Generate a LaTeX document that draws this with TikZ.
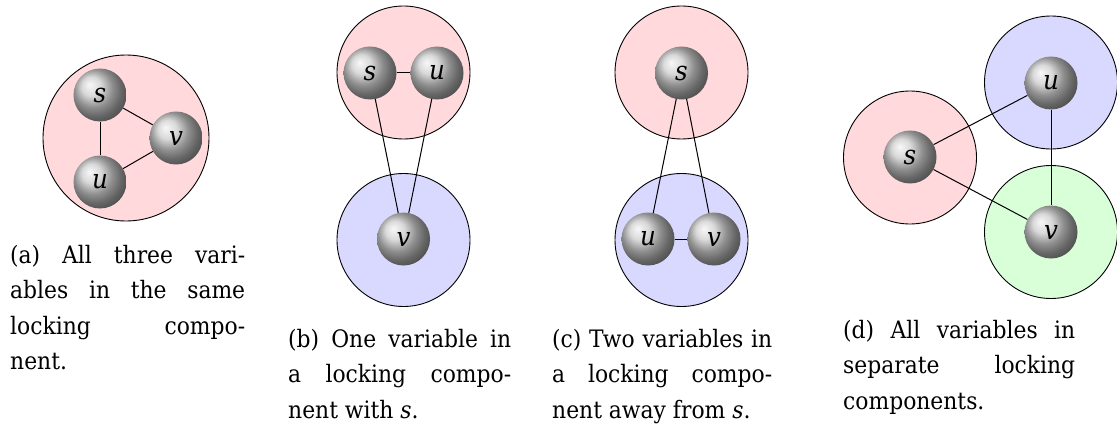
\documentclass[tikz,border=0pt]{standalone}
\usepackage{fontspec}
\setmainfont{DejaVu Serif}[FakeStretch=0.91]
\definecolor{pinkc}{RGB}{255,217,219}
\definecolor{bluec}{RGB}{217,217,255}
\definecolor{greenc}{RGB}{217,255,217}
\pgfdeclarelayer{complayer}
\pgfdeclarelayer{edgelayer}
\pgfsetlayers{complayer,edgelayer,main}
\tolerance=10000\relax
\hyphenpenalty=10000\relax
\tikzset{
  var/.style={circle, minimum size=53pt, inner sep=0pt, ball color=gray!40,
    font=\itshape\fontsize{27}{30}\selectfont},
  compcircle/.style={circle, draw=black, line width=0.9pt, minimum size=133pt, inner sep=0pt},
  edge/.style={draw=black, line width=1pt},
  capt/.style={anchor=base west, inner sep=0pt, align=justify,
    font=\fontsize{24}{35.5}\selectfont},
}
\begin{document}
\begin{tikzpicture}[x=1pt,y=-1pt]
\useasboundingbox (0,0) rectangle (1117,428);
% (a)
\node[var] (as) at (100,95) {s};
\node[var] (av) at (176,138) {v};
\node[var] (au) at (100,182) {u};
% (b)
\node[var] (bs) at (370,73) {s};
\node[var] (bu) at (437,73) {u};
\node[var] (bv) at (403.5,239) {v};
% (c)
\node[var] (cs) at (681.5,73) {s};
\node[var] (cu) at (648,239) {u};
\node[var] (cv) at (714,239) {v};
% (d)
\node[var] (du) at (1051,83) {u};
\node[var] (ds) at (910,157) {s};
\node[var] (dv) at (1051,232) {v};
\begin{pgfonlayer}{complayer}
\node[compcircle, fill=pinkc, minimum size=166pt] (aP) at (126,138) {};
\node[compcircle, fill=pinkc] (bP) at (403.5,72.5) {};
\node[compcircle, fill=bluec] (bB) at (403.5,240) {};
\node[compcircle, fill=pinkc] (cP) at (681.5,72.5) {};
\node[compcircle, fill=bluec] (cB) at (681.5,240) {};
\node[compcircle, fill=bluec] (dB) at (1051,82.5) {};
\node[compcircle, fill=pinkc] (dP) at (910,157.5) {};
\node[compcircle, fill=greenc] (dG) at (1051,232) {};
\end{pgfonlayer}
\begin{pgfonlayer}{edgelayer}
\draw[edge] (as) -- (au);
\draw[edge] (as) -- (av);
\draw[edge] (au) -- (av);
\draw[edge] (bs) -- (bu);
\draw[edge] (bs.center) -- (bv.center);
\draw[edge] (bu.center) -- (bv.center);
\draw[edge] (cs.center) -- (cu.center);
\draw[edge] (cs.center) -- (cv.center);
\draw[edge] (cu) -- (cv);
\draw[edge] (ds) -- (du);
\draw[edge] (ds) -- (dv);
\draw[edge] (du) -- (dv);
\end{pgfonlayer}
% captions
\node[capt, text width=235pt] (capA) at (10,263)
  {(a) All three vari-\linebreak ables in the same\linebreak locking compo-\linebreak nent.};
\node[capt, text width=223pt] (capB) at (288,347)
  {(b) One variable in\linebreak a locking compo-\linebreak nent with \textit{s}.};
\node[capt, text width=220pt] (capC) at (552,347)
  {(c) Two variables in\linebreak a locking compo-\linebreak nent away from \textit{s}.};
\node[capt, text width=232pt] (capD) at (843,338)
  {(d) All variables in\linebreak separate locking\linebreak components.};
\end{tikzpicture}
\end{document}
